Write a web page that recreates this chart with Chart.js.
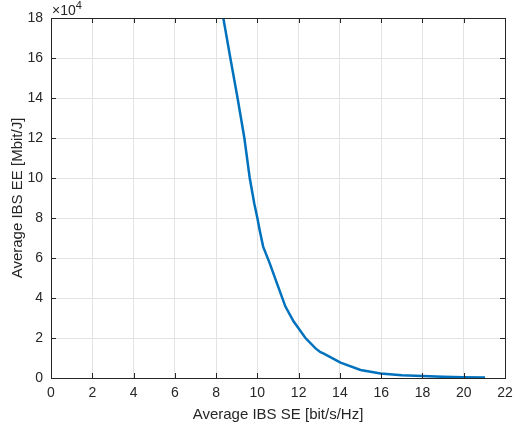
<!DOCTYPE html>
<html>
<head>
<meta charset="utf-8">
<script src="https://cdn.jsdelivr.net/npm/chart.js@4/dist/chart.umd.min.js"></script>
<style>
  html, body { margin: 0; padding: 0; background: #fff; overflow: hidden; }
</style>
</head>
<body>
<canvas id="chart" width="513" height="428"></canvas>
<script>
// values (EE in Mbit/J, SE in bit/s/Hz)
const seValues = [8.35, 8.69, 9.04, 9.37, 9.63, 9.85, 10.0, 10.11, 10.28, 10.6, 10.95, 11.36, 11.76,
                  12.33, 12.82, 13.06, 13.22, 14.03, 15.0, 15.97, 17.0, 18.0, 19.0, 20.0, 21.03];
const eeValues = [180000, 160000, 140000, 120000, 100000, 87300, 80000, 74000, 65700, 57300, 47300,
                  35700, 28200, 20000, 14800, 12900, 12200, 7700, 4000, 2300, 1400, 1000, 600, 400, 300];
const xTicks = [0, 2, 4, 6, 8, 10, 12, 14, 16, 18, 20, 22];
const yTicks = [0, 2, 4, 6, 8, 10, 12, 14, 16, 18];
const yScaleExp = 4;

const axisColor = '#262626';
const fontFamily = '"Liberation Sans", Arial, Helvetica, sans-serif';

// box, inside tick marks and the x10^4 label, the way MATLAB draws them
const matlabAxes = {
    id: 'matlabAxes',
    afterDraw(chart) {
        const ctx = chart.ctx;
        const a = chart.chartArea;
        const xs = chart.scales.x, ys = chart.scales.y;
        ctx.save();
        ctx.strokeStyle = axisColor;
        ctx.lineWidth = 1;
        ctx.beginPath();
        xTicks.forEach(t => {
            const px = Math.round(xs.getPixelForValue(t)) + 0.5;
            ctx.moveTo(px, a.bottom); ctx.lineTo(px, a.bottom - 5);
            ctx.moveTo(px, a.top); ctx.lineTo(px, a.top + 5);
        });
        yTicks.forEach(t => {
            const py = Math.round(ys.getPixelForValue(t * Math.pow(10, yScaleExp))) + 0.5;
            ctx.moveTo(a.left, py); ctx.lineTo(a.left + 5, py);
            ctx.moveTo(a.right, py); ctx.lineTo(a.right - 5, py);
        });
        ctx.stroke();
        ctx.strokeRect(Math.round(a.left) + 0.5, Math.round(a.top) + 0.5,
                       Math.round(a.right - a.left), Math.round(a.bottom - a.top));
        // multiplier label
        ctx.fillStyle = axisColor;
        ctx.textBaseline = 'alphabetic';
        ctx.textAlign = 'left';
        ctx.font = '14px ' + fontFamily;
        ctx.fillText('\u00d710', a.left + 1, a.top - 3);
        const w = ctx.measureText('\u00d710').width;
        ctx.font = '11px ' + fontFamily;
        ctx.fillText(String(yScaleExp), a.left + 1 + w, a.top - 9);
        ctx.restore();
    }
};

new Chart(document.getElementById('chart'), {
    type: 'line',
    data: {
        datasets: [{
            data: seValues.map((x, i) => ({ x: x, y: eeValues[i] })),
            borderColor: '#0072BD',
            borderWidth: 2.5,
            pointRadius: 0,
            tension: 0,
            fill: false
        }]
    },
    options: {
        responsive: false,
        animation: false,
        devicePixelRatio: 1,
        layout: { autoPadding: false, padding: { top: 18, right: 8, left: 0, bottom: 0 } },
        plugins: { legend: { display: false }, tooltip: { enabled: false } },
        scales: {
            x: {
                type: 'linear',
                min: 0, max: 22,
                afterBuildTicks: s => { s.ticks = xTicks.map(v => ({ value: v })); },
                afterFit: s => { s.height = 50; s.paddingLeft = 0; s.paddingRight = 0; },
                grid: { color: '#e3e3e3', drawTicks: false },
                border: { color: axisColor },
                ticks: { color: axisColor, padding: 7, font: { family: fontFamily, size: 14 } },
                title: {
                    display: true, text: 'Average IBS SE [bit/s/Hz]', color: axisColor,
                    padding: { top: 1 }, font: { family: fontFamily, size: 15 }
                }
            },
            y: {
                type: 'linear',
                min: 0, max: 180000,
                afterBuildTicks: s => { s.ticks = yTicks.map(v => ({ value: v * Math.pow(10, yScaleExp) })); },
                afterFit: s => { s.width = 51; s.paddingTop = 0; s.paddingBottom = 0; },
                grid: { color: '#e3e3e3', drawTicks: false },
                border: { color: axisColor },
                ticks: {
                    color: axisColor, padding: 8, font: { family: fontFamily, size: 14 },
                    callback: v => String(Math.round(v / Math.pow(10, yScaleExp)))
                },
                title: {
                    display: true, text: 'Average IBS EE [Mbit/J]', color: axisColor,
                    padding: { top: 9, bottom: 0 }, font: { family: fontFamily, size: 15 }
                }
            }
        }
    },
    plugins: [matlabAxes]
});
</script>
</body>
</html>
